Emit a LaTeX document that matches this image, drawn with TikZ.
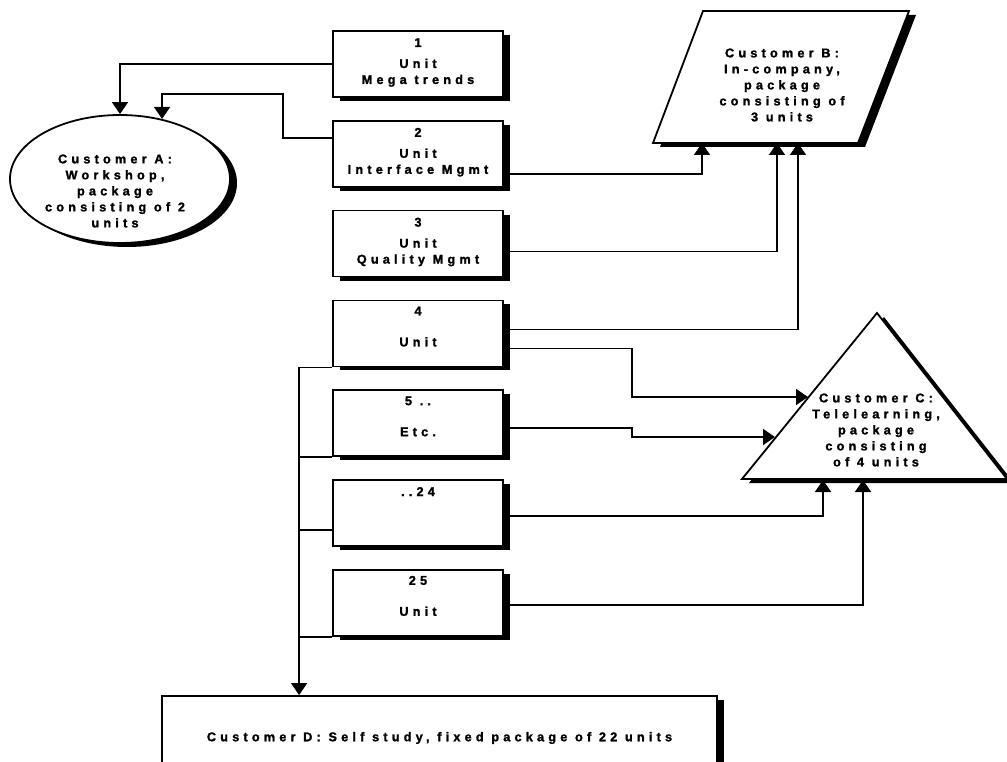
\documentclass[tikz,border=0pt]{standalone}
\usepackage{fontspec}
\setmainfont{Liberation Sans}
\newfontfamily\boxfont[LetterSpace=33, UprightFont={* Bold}, FakeBold=1.6]{Liberation Sans}
\usepackage{tikz}
\usetikzlibrary{arrows.meta,positioning,shapes.geometric,shadows}

\begin{document}
\begin{tikzpicture}[x=1pt, y=-1pt,
  every node/.style={font=\boxfont\fontsize{12.7}{16}\selectfont, align=center},
  boxshadow/.style={drop shadow={shadow xshift=7pt, shadow yshift=-4pt, fill=black, opacity=1}},
  unitbox/.style={draw, line width=1.8pt, fill=white, boxshadow, minimum width=170pt, minimum height=66pt, inner ysep=3pt},
  threeline/.style={text height=45pt, text depth=5pt},
  twoline/.style={text height=38pt, text depth=12pt},
  oneline/.style={text height=8pt, text depth=42pt},
  link/.style={line width=1.6pt},
  arr/.style={link, -{Triangle[width=16pt,length=12pt]}}]
\useasboundingbox (0,0) rectangle (1007,762);

% units
\node [unitbox, threeline] (u1) at (418,64) {1\\[5pt]Unit\\Mega trends};
\node [unitbox, threeline, below=22pt of u1] (u2) {2\\[5pt]Unit\\Interface Mgmt};
\node [unitbox, threeline, below=22pt of u2] (u3) {3\\[5pt]Unit\\Quality Mgmt};
\node [unitbox, twoline, below=22pt of u3] (u4) {4\\[15pt]Unit};
\node [unitbox, twoline, below=22pt of u4] (u5) {5 ..\\[15pt]Etc.};
\node [unitbox, oneline, below=22pt of u5] (u24) {..24};
\node [unitbox, twoline, below=22pt of u24] (u25) {25\\[15pt]Unit};

% customers
\node [draw, ellipse, line width=1.8pt, fill=white, boxshadow, minimum width=220pt, minimum height=128pt] (custA) at (120,179) {};
\node (custAtxt) at (115,191) {Customer A:\\Workshop,\\package\\consisting of 2\\units};

\draw [line width=1.8pt, fill=white, boxshadow] (703,11) -- (909,11) -- (858,143) -- (653,143) -- cycle;
\node (custB) at (782,85) {Customer B:\\In-company,\\package\\consisting of\\3 units};

\draw [line width=1.8pt, fill=white, boxshadow] (877,313) -- (1007,479) -- (742,479) -- cycle;
\node (custC) at (876,430) {Customer C:\\Telelearning,\\package\\consisting\\of 4 units};

\node [draw, line width=1.8pt, fill=white, boxshadow, minimum width=555pt, minimum height=84pt] (custD) at (439.5,738) {Customer D: Self study, fixed package of 22 units};

\coordinate (b1) at (702,143);
\coordinate (b2) at (777,143);
\coordinate (b3) at (798,143);
\coordinate (c1) at (808,397);
\coordinate (c2) at (775,437);
\coordinate (c3) at (823,480);
\coordinate (c4) at (863,480);

% connectors
\draw [arr] (u1.west) -| (custA.north);
\draw [arr] ([yshift=16pt]u2.west) -| (283,94) -| (custA.55);
\draw [arr] ([yshift=-20pt]u2.east) -| (b1);
\draw [arr] ([yshift=-8pt]u3.east) -| (b2);
\draw [arr] ([yshift=4pt]u4.east) -| (b3);
\draw [arr] ([yshift=-15pt]u4.east) -| (632,397) -- (c1);
\draw [arr] ([yshift=-5pt]u5.east) -| (632,437) -- (c2);
\draw [arr] ([yshift=-3pt]u24.east) -| (c3);
\draw [arr] ([yshift=-2pt]u25.east) -| (c4);

\draw [arr] (u4.south west) -- ++(-33,0) coordinate (bus) -- (bus |- custD.north);
\draw [link] (u5.south west) -- (u5.south west -| bus);
\draw [link] ([yshift=17pt]u24.south west) -- ([yshift=17pt]u24.south west -| bus);
\draw [link] (u25.south west) -- (u25.south west -| bus);

\end{tikzpicture}
\end{document}
